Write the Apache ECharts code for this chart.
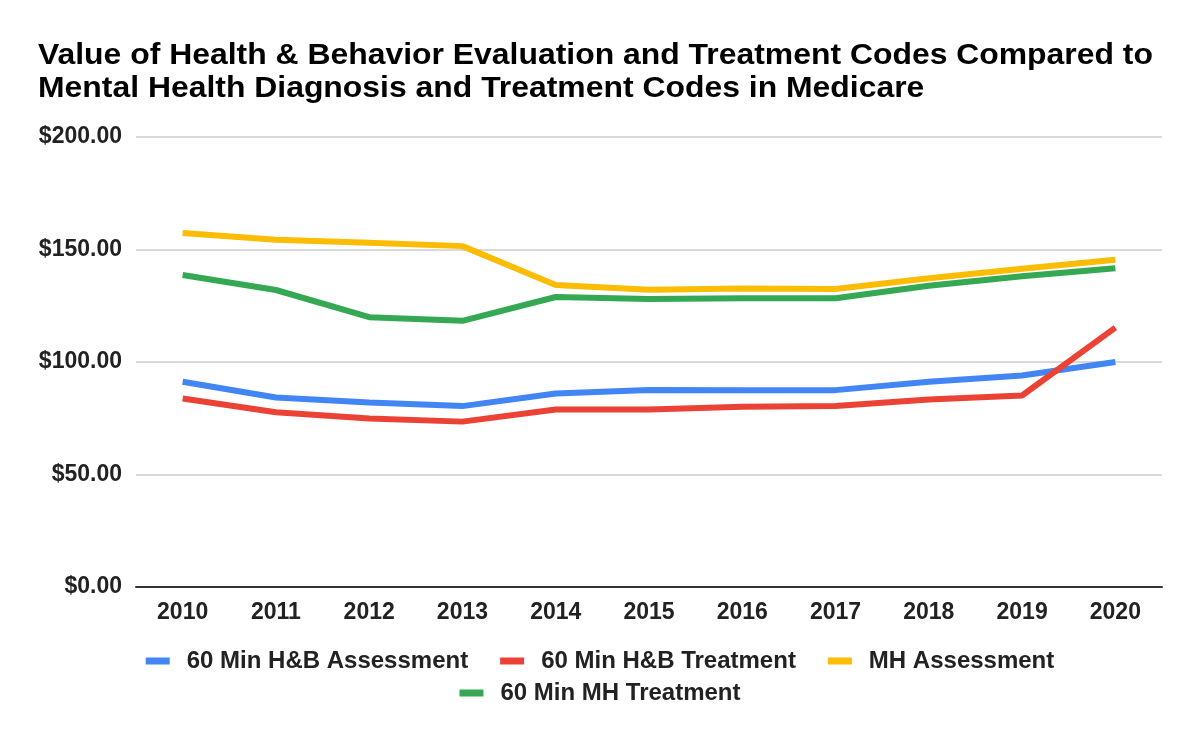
<!DOCTYPE html>
<html><head><meta charset="utf-8">
<script src="https://cdn.jsdelivr.net/npm/echarts@6/dist/echarts.min.js"></script>
<style>html,body{margin:0;padding:0;background:#fff}#c{width:1200px;height:742px}</style>
</head><body><div id="c"></div>
<script>
var years = ['2010','2011','2012','2013','2014','2015','2016','2017','2018','2019','2020'];
var hbAssessment = [91.2, 84.2, 82.0, 80.4, 86.0, 87.6, 87.4, 87.5, 91.2, 94.0, 100.0];
var hbTreatment = [83.8, 77.7, 74.9, 73.5, 78.9, 78.9, 80.1, 80.4, 83.3, 85.1, 115.3];
var mhAssessment = [157.3, 154.3, 153.0, 151.5, 134.2, 132.1, 132.7, 132.4, 137.2, 141.4, 145.4];
var mhTreatment = [138.7, 132.0, 119.9, 118.3, 128.9, 128.0, 128.3, 128.3, 133.9, 138.1, 141.7];
var seriesNames = ['60 Min H&B Assessment', '60 Min H&B Treatment', 'MH Assessment', '60 Min MH Treatment'];
var colors = ['#4285F4', '#EA4335', '#FBBC04', '#34A853'];
var yTicks = [0, 50, 100, 150, 200];
var titleText = 'Value of Health & Behavior Evaluation and Treatment Codes Compared to\nMental Health Diagnosis and Treatment Codes in Medicare';

var font = 'Arial';
var chart = echarts.init(document.getElementById('c'));
var legendText = {fontSize: 24, fontWeight: 'bold', color: '#222', fontFamily: font, padding: [0, 0, 0, 12]};
function mk(name, data, color) {
  return {name: name, type: 'line', data: data, symbol: 'none', smooth: false,
    lineStyle: {width: 6, color: color}, itemStyle: {color: color}};
}
chart.setOption({
  animation: false,
  textStyle: {fontFamily: font},
  graphic: [{
    type: 'text', x: 38, y: 72.5, scaleX: 1.1, scaleY: 1,
    style: {text: titleText, font: 'bold 29px Arial', fill: '#000', lineHeight: 32.5, verticalAlign: 'middle', align: 'left'}
  }],
  legend: [
    {data: seriesNames.slice(0, 3), top: 644, left: 'center', icon: 'rect', itemWidth: 24, itemHeight: 7, itemGap: 32, textStyle: legendText},
    {data: seriesNames.slice(3), top: 676, left: 'center', icon: 'rect', itemWidth: 24, itemHeight: 7, itemGap: 32, textStyle: legendText}
  ],
  grid: {left: 136, right: 38, top: 137, bottom: 155, containLabel: false},
  xAxis: {
    type: 'category', data: years, boundaryGap: true,
    axisLine: {lineStyle: {color: '#333', width: 2}},
    axisTick: {show: false},
    axisLabel: {fontSize: 23, fontWeight: 'bold', color: '#222', fontFamily: font, margin: 14}
  },
  yAxis: {
    type: 'value', min: yTicks[0], max: yTicks[yTicks.length - 1], interval: 50,
    axisLine: {show: false}, axisTick: {show: false},
    splitLine: {lineStyle: {color: '#ccc', width: 1.5}},
    axisLabel: {fontSize: 23, fontWeight: 'bold', color: '#222', fontFamily: font, margin: 14,
      formatter: function (v) { return '$' + v.toFixed(2); }}
  },
  series: [
    mk(seriesNames[0], hbAssessment, colors[0]),
    mk(seriesNames[1], hbTreatment, colors[1]),
    mk(seriesNames[2], mhAssessment, colors[2]),
    mk(seriesNames[3], mhTreatment, colors[3])
  ]
});
</script></body></html>
